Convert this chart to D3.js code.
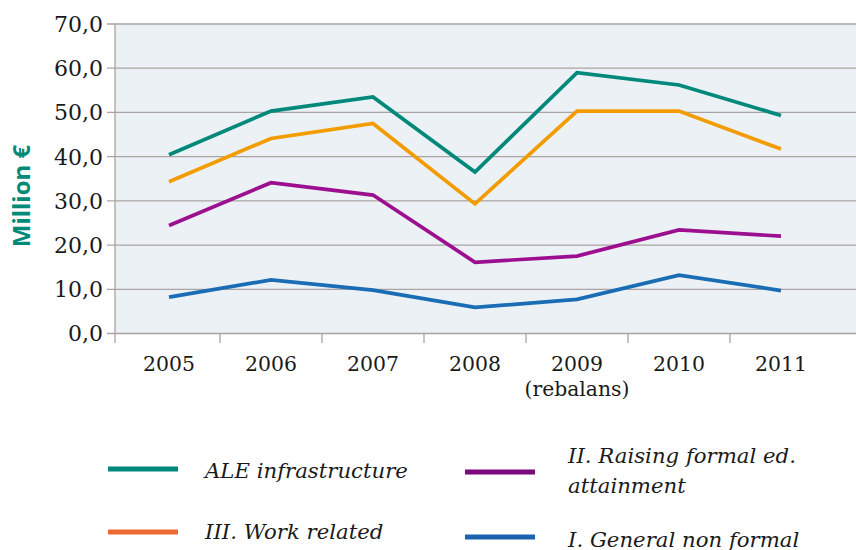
<!DOCTYPE html>
<html>
<head>
<meta charset="utf-8">
<script src="https://cdn.jsdelivr.net/npm/d3@7"></script>
<style>
  body { margin: 0; background: #fff; }
  svg { display: block; }
</style>
</head>
<body>
<svg id="chart"></svg>
<script>
var years = ['2005', '2006', '2007', '2008', '2009', '2010', '2011'];
var yearNotes = ['', '', '', '', '(rebalans)', '', ''];
var yTicks = [0, 10, 20, 30, 40, 50, 60, 70];

var aleInfra = [40.3, 50.2, 53.4, 36.4, 58.9, 56.1, 49.2];
var workRelated = [34.2, 44.0, 47.4, 29.2, 50.2, 50.2, 41.6];
var raisingFormal = [24.3, 34.0, 31.2, 16.0, 17.4, 23.3, 21.9];
var generalNonFormal = [8.1, 12.0, 9.7, 5.8, 7.6, 13.1, 9.6];

var series = [
  {name: 'ALE infrastructure', values: aleInfra, color: '#00897a', key: '#00897a'},
  {name: 'III. Work related', values: workRelated, color: '#f39c00', key: '#ec6a30'},
  {name: 'II. Raising formal ed.|attainment', values: raisingFormal, color: '#9c1090', key: '#7a0a7c'},
  {name: 'I. General non formal', values: generalNonFormal, color: '#1a6db4', key: '#1a62ad'}
];

var width = 856, height = 550;
var plot = {left: 115, top: 23.5, right: 856, bottom: 333};
var serif = 'DejaVu Serif';

var svg = d3.select('#chart')
  .attr('width', width)
  .attr('height', height);

// font size that makes a text come out at a given width
function fitSize(str, target, italic) {
  var t = svg.append('text')
    .attr('font-family', serif)
    .attr('font-size', 20)
    .attr('font-style', italic ? 'italic' : 'normal')
    .text(str);
  var w = t.node().getComputedTextLength();
  t.remove();
  return 20 * target / w;
}

var x = d3.scaleBand()
  .domain(years)
  .range([118, 832]);

var y = d3.scaleLinear()
  .domain([0, 70])
  .range([plot.bottom, plot.top]);

svg.append('rect')
  .attr('x', plot.left)
  .attr('y', plot.top)
  .attr('width', plot.right - plot.left)
  .attr('height', plot.bottom - plot.top)
  .attr('fill', '#ecf1f6');

var yAxis = d3.axisLeft(y)
  .tickValues(yTicks)
  .tickSize(-(plot.right - plot.left))
  .tickSizeOuter(0)
  .tickPadding(12)
  .tickFormat(d => d3.format('.1f')(d).replace('.', ','));

var gy = svg.append('g')
  .attr('transform', 'translate(' + plot.left + ',0)')
  .call(yAxis)
  .attr('font-family', serif)
  .attr('font-size', fitSize('70,0', 49));
gy.select('.domain').remove();
gy.selectAll('.tick line')
  .attr('stroke', '#a9a4a2')
  .attr('stroke-width', 1.3)
  .attr('x1', -8);
gy.selectAll('.tick text')
  .attr('fill', '#1a1a1a')
  .attr('dy', '0.36em');

svg.append('line')
  .attr('x1', plot.left).attr('x2', plot.left)
  .attr('y1', plot.top).attr('y2', plot.bottom + 10)
  .attr('stroke', '#a9a4a2')
  .attr('stroke-width', 1.3);

var xAxis = d3.axisBottom(x)
  .tickSize(0)
  .tickPadding(23)
  .tickSizeOuter(0);
var gx = svg.append('g')
  .attr('transform', 'translate(0,' + plot.bottom + ')')
  .call(xAxis)
  .attr('font-family', serif)
  .attr('font-size', fitSize('2007', 52));
gx.select('.domain').remove();
gx.selectAll('.tick text')
  .attr('fill', '#1a1a1a');
gx.selectAll('.tick').append('text')
  .attr('y', 63)
  .attr('fill', '#1a1a1a')
  .attr('font-size', fitSize('(rebalans)', 105))
  .text((d, i) => yearNotes[i]);

svg.selectAll('.xsep')
  .data(years.slice(1))
  .enter()
  .append('line')
    .attr('class', 'xsep')
    .attr('x1', d => x(d))
    .attr('x2', d => x(d))
    .attr('y1', plot.bottom)
    .attr('y2', plot.bottom + 10)
    .attr('stroke', '#a9a4a2')
    .attr('stroke-width', 1.3);

var line = d3.line()
  .x((d, i) => x(years[i]) + x.bandwidth() / 2)
  .y(d => y(d));

svg.selectAll('.series')
  .data(series)
  .enter()
  .append('path')
    .attr('class', 'series')
    .attr('d', d => line(d.values))
    .attr('fill', 'none')
    .attr('stroke', d => d.color)
    .attr('stroke-width', 3.7);

svg.append('text')
  .attr('transform', 'translate(30,196) rotate(-90)')
  .attr('text-anchor', 'middle')
  .attr('fill', '#008a78')
  .attr('font-family', 'Open Sans')
  .attr('font-weight', 'bold')
  .attr('font-size', 24)
  .text('Million €');

var legendPos = [
  {sx: 108, sy: 469, tx: 205, ty: 478},
  {sx: 108, sy: 532, tx: 205, ty: 539},
  {sx: 465, sy: 472, tx: 568, ty: 463},
  {sx: 465, sy: 537, tx: 568, ty: 547}
];
var legendSize = fitSize('ALE infrastructure', 203, true);

var lg = svg.selectAll('.legend')
  .data(series)
  .enter()
  .append('g')
    .attr('class', 'legend');

lg.append('line')
  .attr('x1', (d, i) => legendPos[i].sx)
  .attr('x2', (d, i) => legendPos[i].sx + 70)
  .attr('y1', (d, i) => legendPos[i].sy)
  .attr('y2', (d, i) => legendPos[i].sy)
  .attr('stroke', d => d.key)
  .attr('stroke-width', 5);

lg.append('text')
  .attr('x', (d, i) => legendPos[i].tx)
  .attr('y', (d, i) => legendPos[i].ty)
  .attr('fill', '#1a1a1a')
  .attr('font-family', serif)
  .attr('font-style', 'italic')
  .attr('font-size', legendSize)
  .each(function(d, i) {
    var parts = d.name.split('|');
    var t = d3.select(this);
    parts.forEach(function(p, j) {
      t.append('tspan')
        .attr('x', legendPos[i].tx)
        .attr('dy', j === 0 ? 0 : 30)
        .text(p);
    });
  });
</script>
</body>
</html>
